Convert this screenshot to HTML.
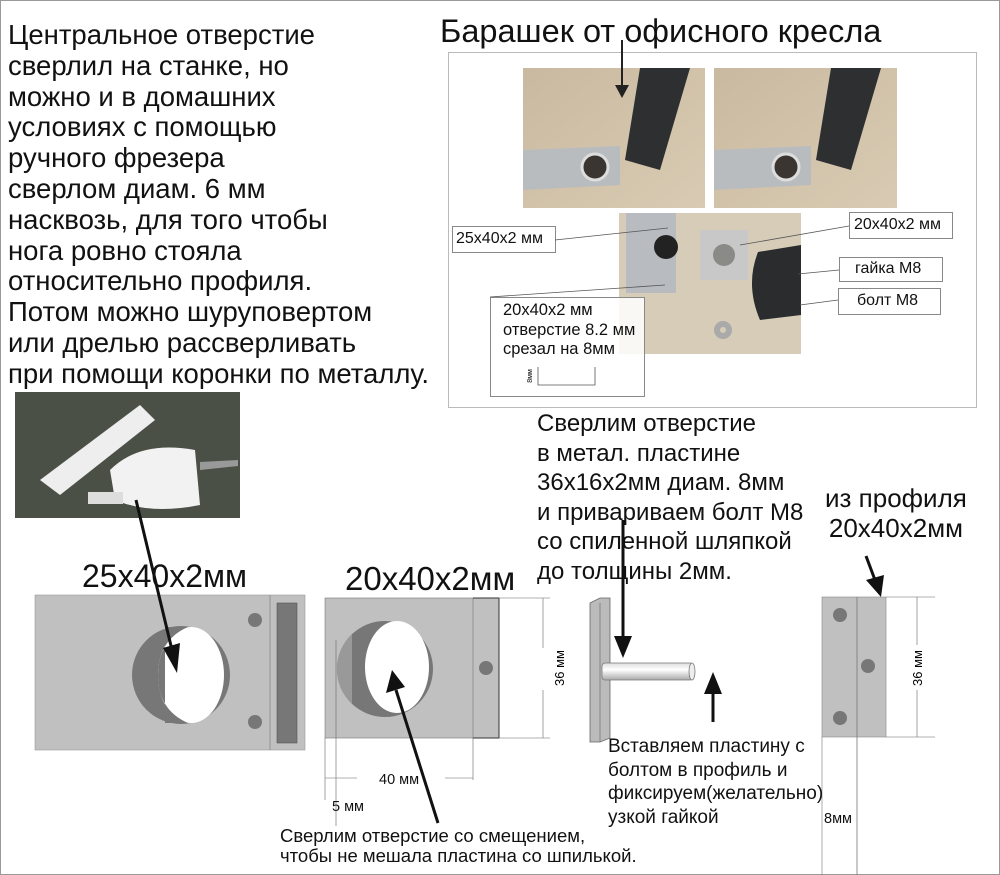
<!DOCTYPE html>
<html><head><meta charset="utf-8"><style>
html,body{margin:0;padding:0;background:#fff}
body{width:1000px;height:875px;position:relative;overflow:hidden;font-family:"Liberation Sans",sans-serif;color:#111}
.frame{position:absolute;left:0;top:0;width:998px;height:873px;border:1px solid #999}
.t{position:absolute;white-space:nowrap}
svg{position:absolute;left:0;top:0}
</style></head><body>
<div class="frame"></div>
<svg width="1000" height="875" viewBox="0 0 1000 875">
<defs>
<linearGradient id="wood" x1="0" y1="0" x2="1" y2="1"><stop offset="0" stop-color="#c9b9a0"/><stop offset="1" stop-color="#d9cbb3"/></linearGradient>
<linearGradient id="bolt" x1="0" y1="0" x2="0" y2="1"><stop offset="0" stop-color="#ddd"/><stop offset=".4" stop-color="#fff"/><stop offset="1" stop-color="#aaa"/></linearGradient>
</defs>
<rect x="448.5" y="52.5" width="528" height="355" fill="#fff" stroke="#bbb"/>
<rect x="523" y="68" width="182" height="140" fill="url(#wood)"/>
<path d="M523,150 L620,146 L620,185 L523,190z" fill="#b9bcbf"/>
<circle cx="595" cy="167" r="13" fill="#3a3530" stroke="#ddd" stroke-width="3"/>
<path d="M640,68 L690,68 L660,170 L625,160z" fill="#2e2f31"/>
<rect x="714" y="68" width="183" height="140" fill="url(#wood)"/>
<path d="M714,150 L811,146 L811,185 L714,190z" fill="#b9bcbf"/>
<circle cx="786" cy="167" r="13" fill="#3a3530" stroke="#ddd" stroke-width="3"/>
<path d="M831,68 L881,68 L851,170 L816,160z" fill="#2e2f31"/>
<rect x="619" y="213" width="182" height="141" fill="#d7ccb8"/>
<rect x="626" y="213" width="50" height="80" fill="#b8bcc0"/>
<circle cx="666" cy="247" r="12" fill="#222"/>
<rect x="700" y="230" width="48" height="50" fill="#c8c8c8"/>
<circle cx="724" cy="255" r="11" fill="#8a8a86"/>
<path d="M758,252 L801,245 L801,315 L760,320 Q745,285 758,252z" fill="#2b2c2e"/>
<circle cx="723" cy="330" r="9" fill="#aaa"/><circle cx="723" cy="330" r="3" fill="#d7ccb8"/>
<g fill="#fff" stroke="#888">
<rect x="452.5" y="226.5" width="103" height="26"/>
<rect x="849.5" y="212.5" width="103" height="26"/>
<rect x="839.5" y="257.5" width="103" height="24"/>
<rect x="838.5" y="288.5" width="102" height="26"/>
</g>
<rect x="490.5" y="297.5" width="154" height="99" fill="rgba(255,255,255,0.85)" stroke="#888"/>
<g stroke="#555" stroke-width="0.8" fill="none">
<line x1="555" y1="240" x2="668" y2="228"/>
<line x1="849" y1="226" x2="740" y2="245"/>
<line x1="839" y1="270" x2="798" y2="274"/>
<line x1="838" y1="300" x2="800" y2="305"/>
<line x1="490" y1="297" x2="665" y2="285"/>
<path d="M538,367 L538,385 L595,385 L595,367"/>
</g>
<line x1="622" y1="40" x2="622" y2="88" stroke="#222" stroke-width="2"/>
<path d="M615,85 L629,85 L622,98z" fill="#222"/>
<rect x="15" y="392" width="225" height="126" fill="#4a5046"/>
<path d="M40,480 L140,405 L155,420 L60,495z" fill="#eee"/>
<path d="M110,470 Q140,440 195,450 L200,505 Q150,515 115,500z" fill="#f2f2f2"/>
<rect x="88" y="492" width="35" height="12" fill="#ddd"/>
<path d="M200,462 L238,460 L238,466 L200,470z" fill="#999"/>
<rect x="35" y="595" width="270" height="155" fill="#c0c0c0" stroke="#999" stroke-width="0.6"/>
<line x1="270" y1="595" x2="270" y2="750" stroke="#888" stroke-width="0.8"/>
<rect x="277" y="603" width="20" height="140" fill="#777" stroke="#555" stroke-width="0.6"/>
<circle cx="255" cy="620" r="7" fill="#777"/><circle cx="255" cy="722" r="7" fill="#777"/>
<circle cx="181" cy="675" r="49" fill="#777"/>
<ellipse cx="191" cy="675" rx="33" ry="48" fill="#fff"/>
<path d="M158,675 Q158,640 188,627 L165,627 L165,723 L188,723 Q158,710 158,675z" fill="#777"/>
<rect x="325" y="598" width="174" height="140" fill="#c0c0c0" stroke="#777" stroke-width="0.6"/>
<line x1="473" y1="598" x2="473" y2="738" stroke="#888" stroke-width="0.8"/>
<line x1="473" y1="598" x2="499" y2="598" stroke="#333"/><line x1="473" y1="738" x2="499" y2="738" stroke="#333"/><line x1="499" y1="598" x2="499" y2="738" stroke="#333"/>
<circle cx="486" cy="668" r="7" fill="#777"/>
<circle cx="385" cy="669" r="48" fill="#777"/>
<path d="M352,634 L352,704 A48,48 0 0 1 352,634z" fill="#999"/>
<ellipse cx="397" cy="667" rx="32" ry="46" fill="#fff"/>
<g stroke="#666" stroke-width="0.6">
<line x1="499" y1="598" x2="550" y2="598"/><line x1="499" y1="738" x2="550" y2="738"/>
<line x1="543" y1="598" x2="543" y2="648"/><line x1="543" y1="690" x2="543" y2="738"/>
<line x1="325" y1="738" x2="325" y2="800"/><line x1="336" y1="640" x2="336" y2="826"/>
<line x1="473" y1="738" x2="473" y2="780"/>
<line x1="325" y1="778" x2="357" y2="778"/><line x1="445" y1="778" x2="473" y2="778"/>
</g>
<line x1="136" y1="500" x2="172" y2="650" stroke="#111" stroke-width="3"/>
<path d="M163,648 L180,643 L177,673z" fill="#111"/>
<line x1="438" y1="823" x2="396" y2="690" stroke="#111" stroke-width="3"/>
<path d="M386,693 L405,687 L392,670z" fill="#111"/>
<path d="M590,603 L600,598 L610,598 L610,738 L600,742 L590,742z" fill="#bbb" stroke="#666" stroke-width="0.8"/>
<line x1="600" y1="603" x2="600" y2="742" stroke="#777" stroke-width="0.8"/>
<rect x="602" y="663" width="91" height="17" rx="3" fill="url(#bolt)" stroke="#777" stroke-width="0.8"/>
<ellipse cx="692" cy="671.5" rx="3" ry="8.5" fill="#eee" stroke="#777" stroke-width="0.8"/>
<line x1="623" y1="520" x2="623" y2="640" stroke="#111" stroke-width="3"/>
<path d="M614,636 L632,636 L623,658z" fill="#111"/>
<line x1="713" y1="722" x2="713" y2="690" stroke="#111" stroke-width="3"/>
<path d="M704,694 L722,694 L713,672z" fill="#111"/>
<rect x="822" y="597" width="64" height="140" fill="#c0c0c0" stroke="#888" stroke-width="0.6"/>
<line x1="857" y1="597" x2="857" y2="875" stroke="#777" stroke-width="0.8"/>
<line x1="822" y1="737" x2="822" y2="875" stroke="#777" stroke-width="0.6"/>
<circle cx="840" cy="615" r="7" fill="#777"/><circle cx="868" cy="666" r="7" fill="#777"/><circle cx="840" cy="718" r="7" fill="#777"/>
<g stroke="#666" stroke-width="0.6">
<line x1="886" y1="597" x2="935" y2="597"/><line x1="886" y1="737" x2="935" y2="737"/>
<line x1="917" y1="597" x2="917" y2="645"/><line x1="917" y1="690" x2="917" y2="737"/>
</g>
<line x1="866" y1="556" x2="875" y2="580" stroke="#111" stroke-width="3"/>
<path d="M866,580 L884,575 L881,597z" fill="#111"/>
<text x="0" y="0" transform="translate(564,668) rotate(-90)" text-anchor="middle" font-family="Liberation Sans" font-size="13">36 мм</text>
<text x="0" y="0" transform="translate(922,668) rotate(-90)" text-anchor="middle" font-family="Liberation Sans" font-size="13">36 мм</text>
<text x="0" y="0" transform="translate(532,376) rotate(-90)" text-anchor="middle" font-family="Liberation Sans" font-size="7">8мм</text>
</svg>

<div class="t" style="left:8px;top:20px;font-size:27.5px;line-height:30.8px">Центральное отверстие<br>сверлил на станке, но<br>можно и в домашних<br>условиях с помощью<br>ручного фрезера<br>сверлом диам. 6 мм<br>насквозь, для того чтобы<br>нога ровно стояла<br>относительно профиля.<br>Потом можно шуруповертом<br>или дрелью рассверливать<br>при помощи коронки по металлу.</div>
<div class="t" style="left:440px;top:13px;font-size:32.5px">Барашек от офисного кресла</div>
<div class="t" style="left:456px;top:230px;font-size:16px">25x40x2 мм</div>
<div class="t" style="left:854px;top:216px;font-size:16px">20x40x2 мм</div>
<div class="t" style="left:855px;top:260px;font-size:16px">гайка М8</div>
<div class="t" style="left:857px;top:292px;font-size:16px">болт М8</div>
<div class="t" style="left:503px;top:301px;font-size:16.5px;line-height:19.5px">20x40x2 мм<br>отверстие 8.2 мм<br>срезал на 8мм</div>
<div class="t" style="left:537px;top:409px;font-size:24px;line-height:29.5px">Сверлим отверстие<br>в метал. пластине<br>36x16x2мм диам. 8мм<br>и привариваем болт М8<br>со спиленной шляпкой<br>до толщины 2мм.</div>
<div class="t" style="left:825px;top:483px;font-size:26px;line-height:30px;text-align:center">из профиля<br>20x40x2мм</div>
<div class="t" style="left:82px;top:558px;font-size:32px">25x40x2мм</div>
<div class="t" style="left:345px;top:560px;font-size:33px">20x40x2мм</div>
<div class="t" style="left:379px;top:772px;font-size:14.5px">40 мм</div>
<div class="t" style="left:332px;top:799px;font-size:14.5px">5 мм</div>
<div class="t" style="left:280px;top:826px;font-size:18.5px;line-height:20px">Сверлим отверстие со смещением,<br>чтобы не мешала пластина со шпилькой.</div>
<div class="t" style="left:608px;top:735px;font-size:19px;line-height:23.5px">Вставляем пластину с<br>болтом в профиль и<br>фиксируем(желательно)<br>узкой гайкой</div>
<div class="t" style="left:824px;top:811px;font-size:14.5px">8мм</div>
</body></html>
